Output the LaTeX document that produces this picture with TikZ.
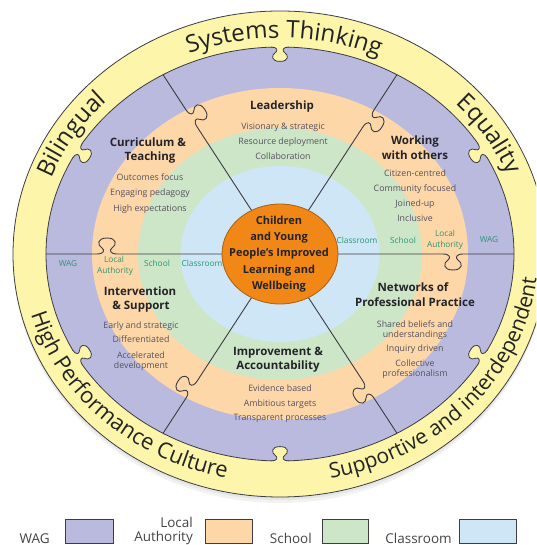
\documentclass[tikz,border=0pt]{standalone}
\usepackage{fontspec}
\setmainfont{Open Sans}
\usetikzlibrary{decorations.text}
\definecolor{ringY}{RGB}{252,245,170}
\definecolor{wagC}{RGB}{186,186,222}
\definecolor{laC}{RGB}{253,215,168}
\definecolor{schC}{RGB}{205,230,200}
\definecolor{clsC}{RGB}{207,230,246}
\definecolor{ctrC}{RGB}{240,135,22}
\definecolor{ctrLine}{RGB}{170,95,20}
\definecolor{lineC}{RGB}{60,60,66}
\definecolor{headC}{RGB}{35,35,40}
\definecolor{itemC}{RGB}{85,80,95}
\definecolor{lvlC}{RGB}{40,150,115}
\definecolor{ringTxt}{RGB}{35,35,35}
\newcommand\topfont{\fontsize{24}{27}\selectfont}
\newcommand\botfont{\fontsize{22}{25}\selectfont}
\newcommand\supfont{\fontsize{21}{24}\selectfont}
\newcommand\spoke[3]{%
\begin{scope}[rotate=#1]
\draw[spk] (0,0) -- ({#2-10},0) .. controls ({#2-3},0) and ({#2-2},-4) .. ({#2-5},-6)
 .. controls ({#2-10},-9) and ({#2-10},-16) .. (#2,-16)
 .. controls ({#2+10},-16) and ({#2+10},-9) .. ({#2+5},-6)
 .. controls ({#2+2},-4) and ({#2+3},0) .. ({#2+10},0) -- (#3,0);
\end{scope}}
\newcommand\ytab[3]{%
\begin{scope}[shift={(#1,#2)}, rotate=#3, scale=0.9]
\fill[ringY] (-10,0) .. controls (-3,0) and (-2,-4) .. (-5,-6)
 .. controls (-10,-9) and (-10,-16) .. (0,-16)
 .. controls (10,-16) and (10,-9) .. (5,-6)
 .. controls (2,-4) and (3,0) .. (10,0) -- (10,3) -- (-10,3) -- cycle;
\draw[ringline] (-10,0) .. controls (-3,0) and (-2,-4) .. (-5,-6)
 .. controls (-10,-9) and (-10,-16) .. (0,-16)
 .. controls (10,-16) and (10,-9) .. (5,-6)
 .. controls (2,-4) and (3,0) .. (10,0);
\end{scope}}
\begin{document}
\begin{tikzpicture}[x=1pt,y=1pt,
  spk/.style={draw=lineC, line width=0.9pt},
  ringline/.style={draw=lineC, line width=0.8pt},
  head/.style={font=\bfseries\fontsize{11.5}{13}\selectfont, text=headC, inner sep=0pt, anchor=base},
  item/.style={font=\fontsize{8.8}{10}\selectfont, text=itemC, inner sep=0pt, anchor=base},
  lvl/.style={font=\fontsize{8.3}{9}\selectfont, text=lvlC, inner sep=0pt, anchor=base},
  legtxt/.style={font=\fontsize{13.5}{15}\selectfont, text=headC!85, inner sep=0pt, anchor=base east},
  legbox/.style={draw=lineC, line width=0.8pt},
  ringtext/.style={decorate, decoration={text along path, text align=center, text color=ringTxt}}
]
\useasboundingbox (-280,-291) rectangle (256,254);
\clip (-280,-291) rectangle (256,254);
% soft shadow
\fill[black, opacity=0.05] (0,-6) ellipse [x radius=266, y radius=243];
\fill[black, opacity=0.05] (0,-3) ellipse [x radius=267, y radius=243];
% rings
\filldraw[fill=ringY, ringline] (0,0) ellipse [x radius=267, y radius=243];
\filldraw[fill=wagC, ringline] (0,0) ellipse [x radius=234, y radius=207];
\fill[laC] (0,0) ellipse [x radius=188, y radius=166];
\fill[schC] (0,0) ellipse [x radius=142, y radius=126];
\fill[clsC] (0,0) ellipse [x radius=99.5, y radius=88];
% spokes with puzzle knobs
\spoke{0}{173}{234}
\spoke{180}{173}{234}
\spoke{56.88}{162}{214}
\spoke{123.12}{162}{214}
\spoke{236.88}{162}{214}
\spoke{303.12}{162}{214}
% yellow tabs
\ytab{0}{207}{0}
\ytab{0}{-207}{180}
\ytab{202.6}{103.5}{-56.87}
\ytab{-202.6}{103.5}{56.87}
\ytab{-202.6}{-103.5}{123.13}
\ytab{202.6}{-103.5}{236.87}
% centre
\filldraw[fill=ctrC, draw=ctrLine, line width=0.8pt] (0,0) ellipse [x radius=58, y radius=50];
\node[font=\bfseries\fontsize{11}{16.4}\selectfont, text=headC, align=center, inner sep=0pt] (ctr) at (-1,0)
 {Children\\and Young\\People’s Improved\\Learning and\\Wellbeing};
% ring texts
\path[ringtext, decoration={text={|\topfont|Systems Thinking}}]
 (129:244pt and 216pt) arc[start angle=129, end angle=49, x radius=244pt, y radius=216pt];
\path[ringtext, decoration={text={|\topfont|Bilingual}}]
 (178:244pt and 216pt) arc[start angle=178, end angle=118, x radius=244pt, y radius=216pt];
\path[ringtext, decoration={text={|\topfont|Equality}}]
 (62:244pt and 216pt) arc[start angle=62, end angle=2, x radius=244pt, y radius=216pt];
\path[ringtext, decoration={text={|\supfont|Supportive and interdependent}}]
 (259:258pt and 229pt) arc[start angle=259, end angle=379, x radius=258pt, y radius=229pt];
\path[ringtext, decoration={text={|\botfont|High Performance Culture}}]
 (165:258pt and 229pt) arc[start angle=165, end angle=285, x radius=258pt, y radius=229pt];
% Leadership
\node[head] (lead) at (2,144) {Leadership};
\node[item] (lead1) at (3,124) {Visionary \& strategic};
\node[item] (lead2) at (3,109) {Resource deployment};
\node[item] (lead3) at (3,94) {Collaboration};
% Curriculum
\node[head] (cur) at (-132,107) {Curriculum \&};
\node[head] (cur0) at (-130,93) {Teaching};
\node[item] (cur1) at (-130,73) {Outcomes focus};
\node[item] (cur2) at (-130,58) {Engaging pedagogy};
\node[item] (cur3) at (-130,42) {High expectations};
% Working with others
\node[head] (wor) at (135,109) {Working};
\node[head] (wor0) at (135,94) {with others};
\node[item] (wor1) at (135,77) {Citizen-centred};
\node[item] (wor2) at (135,62) {Community focused};
\node[item] (wor3) at (135,47) {Joined-up};
\node[item] (wor4) at (135,32) {Inclusive};
% Intervention
\node[head] (int) at (-140,-42) {Intervention};
\node[head] (int0) at (-139,-56) {\& Support};
\node[item] (int1) at (-139,-75) {Early and strategic};
\node[item] (int2) at (-139,-89) {Differentiated};
\node[item] (int3) at (-139,-105) {Accelerated};
\node[item] (int4) at (-139,-114) {development};
% Improvement
\node[head] (imp) at (-2,-102) {Improvement \&};
\node[head] (imp0) at (-2,-116) {Accountability};
\node[item] (imp1) at (0,-137) {Evidence based};
\node[item] (imp2) at (0,-152) {Ambitious targets};
\node[item] (imp3) at (0,-166) {Transparent processes};
% Networks
\node[head] (net) at (133,-38) {Networks of};
\node[head] (net0) at (135,-53) {Professional Practice};
\node[item] (net1) at (135,-74) {Shared beliefs and};
\node[item] (net2) at (135,-84) {understandings};
\node[item] (net3) at (135,-98) {Inquiry driven};
\node[item] (net4) at (135,-113) {Collective};
\node[item] (net5) at (135,-122) {professionalism};
% level labels
\node[lvl] (rc) at (77,10) {Classroom};
\node[lvl] (rs) at (123,10) {School};
\node[lvl] (rl) at (165,17) {Local};
\node[lvl] (ra) at (165,6) {Authority};
\node[lvl] (rw) at (209,11) {WAG};
\node[lvl] (lw) at (-212,-13) {WAG};
\node[lvl] (ll) at (-166,-9) {Local};
\node[lvl] (la) at (-165,-20) {Authority};
\node[lvl] (ls) at (-123,-13) {School};
\node[lvl] (lc) at (-78,-13) {Classroom};
% legend
\node[legtxt] (kw) at (-230,-289) {WAG};
\draw[legbox, fill=wagC] (-215,-265) rectangle (-167,-289);
\node[legtxt] (kl) at (-87,-273) {Local};
\node[legtxt] (ka) at (-87,-287) {Authority};
\draw[legbox, fill=laC] (-75,-265) rectangle (-28,-289);
\node[legtxt] (ks) at (32,-289) {School};
\draw[legbox, fill=schC] (42,-265) rectangle (88,-289);
\node[legtxt] (kc) at (172,-289) {Classroom};
\draw[legbox, fill=clsC] (179,-265) rectangle (236,-289);
\end{tikzpicture}
\end{document}
